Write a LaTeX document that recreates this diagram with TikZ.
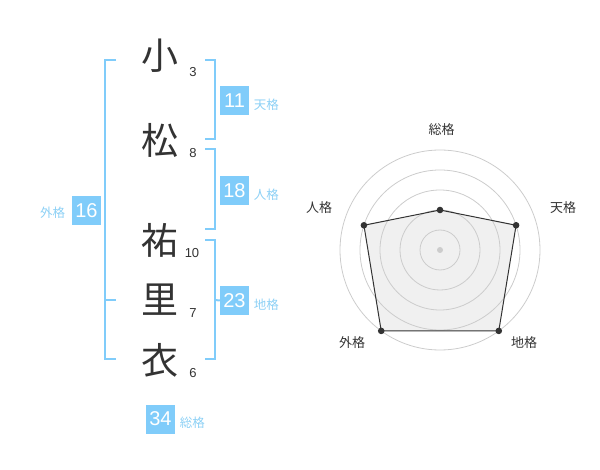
\documentclass[tikz,border=0pt]{standalone}
\usepackage{fontspec}
\setmainfont{Liberation Sans}
\newfontfamily\jpfont{Noto Sans CJK JP}
\usetikzlibrary{positioning}
\definecolor{kakublue}{RGB}{128,204,250}
\definecolor{kakutext}{RGB}{140,208,245}
\definecolor{inkgray}{RGB}{51,51,51}
\definecolor{ringgray}{RGB}{204,204,204}
\definecolor{areagray}{RGB}{240,240,240}

\begin{document}
\begin{tikzpicture}[x=1pt,y=-1pt,
    kanji/.style={text=inkgray,inner sep=0pt,font=\jpfont\fontsize{37}{37}\selectfont},
    strokes/.style={text=inkgray,inner sep=0pt,font=\fontsize{13}{13}\selectfont},
    kakubox/.style={fill=kakublue,text=white,minimum size=29pt,inner sep=0pt,font=\fontsize{20}{20}\selectfont},
    kakulabel/.style={text=kakutext,inner sep=0pt,font=\jpfont\fontsize{12.5}{12.5}\selectfont},
    bracket/.style={draw=kakublue,line width=2pt},
    ring/.style={draw=ringgray,line width=0.8pt},
    axislabel/.style={text=inkgray,inner sep=0pt,font=\jpfont\fontsize{13}{13}\selectfont}]
    \useasboundingbox (0,0) rectangle (600,470);
    % name
    \node[kanji] (Ko) at (160,56) {小};
    \node[kanji] (Matsu) at (160,140) {松};
    \node[kanji] (Yu) at (160,240.5) {祐};
    \node[kanji] (Ri) at (160,300) {里};
    \node[kanji] (I) at (160,360) {衣};
    \node[strokes] (Ko_n) at (193,72.5) {3};
    \node[strokes] (Matsu_n) at (193,153) {8};
    \node[strokes] (Yu_n) at (192,253) {10};
    \node[strokes] (Ri_n) at (193,313) {7};
    \node[strokes] (I_n) at (193,373) {6};
    %
    \draw[bracket] (116,60) -- (105,60) -- (105,359) -- (116,359);
    \draw[bracket] (105,300) -- (116,300);
    \draw[bracket] (205,60) -- (215,60) -- (215,139) -- (205,139);
    \draw[bracket] (205,149) -- (215,149) -- (215,229) -- (205,229);
    \draw[bracket] (205,240) -- (215,240) -- (215,359) -- (205,359);
    %
    \node[kakubox] (Gaikaku) at (86.5,210.5) {16};
    \node[kakubox] (Tenkaku) at (234.5,100.5) {11};
    \node[kakubox] (Jinkaku) at (234.5,190.5) {18};
    \node[kakubox] (Chikaku) at (234.5,300.5) {23};
    \node[kakubox] (Soukaku) at (160.5,419) {34};
    \draw[bracket] (215,300) -- (Chikaku.west);
    %
    \node[kakulabel,left=6.5pt of Gaikaku,yshift=-2.5pt] (Gaikaku_l) {外格};
    \node[kakulabel,right=4.5pt of Tenkaku,yshift=-4pt] (Tenkaku_l) {天格};
    \node[kakulabel,right=4.5pt of Jinkaku,yshift=-4pt] (Jinkaku_l) {人格};
    \node[kakulabel,right=4.5pt of Chikaku,yshift=-4pt] (Chikaku_l) {地格};
    \node[kakulabel,right=4.5pt of Soukaku,yshift=-4pt] (Soukaku_l) {総格};
    % radar
    \begin{scope}[shift={(440,250)},yscale=-1]
        \coordinate (so) at (90:40);
        \coordinate (ten) at (18:80);
        \coordinate (chi) at (-54:100);
        \coordinate (gai) at (-126:100);
        \coordinate (jin) at (162:80);
        \fill[areagray] (so) -- (ten) -- (chi) -- (gai) -- (jin) -- cycle;
        \foreach \r in {20,40,60,80,100}
            \draw[ring] (0,0) circle (\r);
        \fill[ringgray] (0,0) circle (3);
        \draw[inkgray,line width=1pt] (so) -- (ten) -- (chi) -- (gai) -- (jin) -- cycle;
        \foreach \p in {so,ten,chi,gai,jin}
            \fill[inkgray] (\p) circle (3.3);
    \end{scope}
    \node[axislabel] (so_l) at (441.5,130) {総格};
    \node[axislabel] (ten_l) at (563,208) {天格};
    \node[axislabel] (chi_l) at (524,343) {地格};
    \node[axislabel] (gai_l) at (352,343) {外格};
    \node[axislabel] (jin_l) at (319,208) {人格};
\end{tikzpicture}
\end{document}
